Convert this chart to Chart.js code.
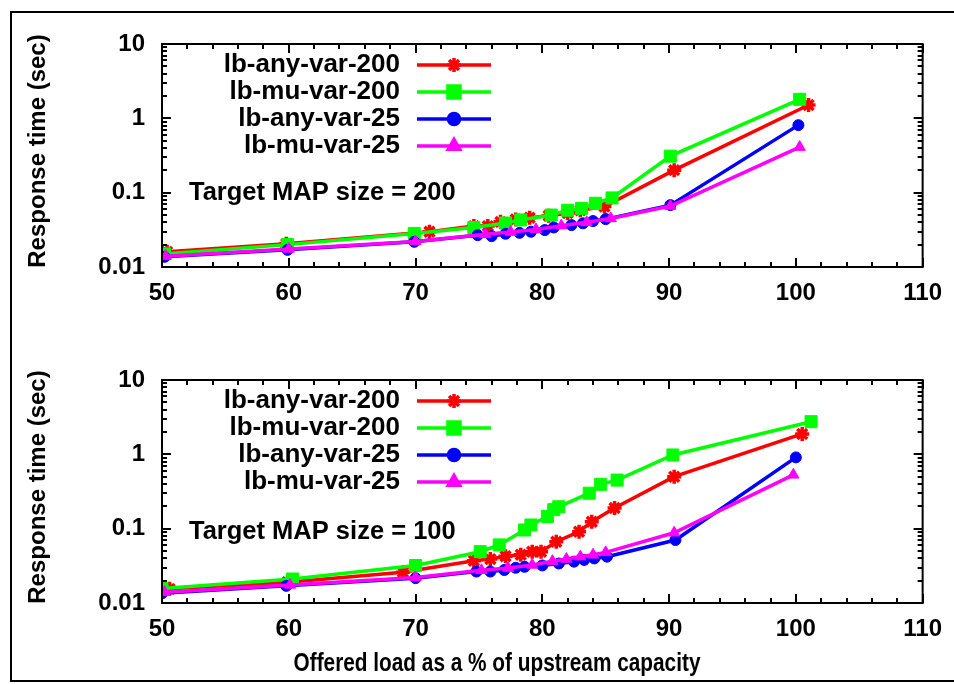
<!DOCTYPE html>
<html lang="en">
<head>
  <meta charset="UTF-8">
  <title>Response time vs offered load</title>
  <script src="https://cdn.jsdelivr.net/npm/chart.js@4"></script>
  <style>
    body { margin: 0; background: #fff; }
    #wrap { position: relative; width: 954px; height: 684px; overflow: hidden; }
    #frame {
      position: absolute; left: 10px; top: 11px; width: 1000px; height: 671px;
      box-sizing: border-box; border: 2px solid #000;
    }
    canvas { position: absolute; left: 0; }
  </style>
</head>
<body>
<div id="wrap">
  <div id="frame"></div>
  <canvas id="topChart" width="954" height="340" style="top:0"></canvas>
  <canvas id="bottomChart" width="954" height="344" style="top:340px"></canvas>
</div>

<script>
  // series names + tick labels
  const seriesNames = ['lb-any-var-200', 'lb-mu-var-200', 'lb-any-var-25', 'lb-mu-var-25'];
  const xTicks = [50, 60, 70, 80, 90, 100, 110];
  const yTicks = [0.01, 0.1, 1, 10];

  // Target MAP size = 200 (top panel)
  const top200AnyLoad = [50.4, 59.8, 71.1, 74.6, 75.7, 76.7, 77.9, 79.0, 80.5, 82.0, 83.0, 84.9, 90.4, 101.0];
  const top200AnyTime = [0.016, 0.0205, 0.0298, 0.0355, 0.0355, 0.0405, 0.0436, 0.046, 0.049, 0.053, 0.058, 0.065, 0.201, 1.51];
  const top200MuLoad = [50.2, 59.9, 69.9, 74.6, 77.1, 78.3, 80.7, 82.0, 83.1, 84.2, 85.5, 90.1, 100.3];
  const top200MuTime = [0.015, 0.020, 0.0283, 0.034, 0.039, 0.043, 0.050, 0.058, 0.0615, 0.072, 0.085, 0.31, 1.80];
  const top25AnyLoad = [50.2, 59.9, 69.9, 74.9, 76.0, 77.1, 78.2, 79.1, 80.2, 80.9, 82.3, 83.2, 84.0, 85.0, 90.1, 100.2];
  const top25AnyTime = [0.0137, 0.017, 0.0218, 0.0268, 0.026, 0.028, 0.0288, 0.0298, 0.0314, 0.034, 0.0366, 0.0387, 0.0415, 0.0441, 0.068, 0.81];
  const top25MuLoad = [50.3, 60.0, 70.0, 75.5, 77.5, 79.5, 81.5, 83.5, 85.4, 90.1, 100.3];
  const top25MuTime = [0.014, 0.0175, 0.022, 0.0275, 0.0295, 0.032, 0.036, 0.040, 0.045, 0.066, 0.41];

  // Target MAP size = 100 (bottom panel)
  const bot200AnyLoad = [50.6, 59.9, 69.0, 74.6, 75.9, 77.1, 78.3, 79.2, 79.9, 81.1, 82.9, 83.9, 85.7, 90.4, 100.5];
  const bot200AnyTime = [0.0155, 0.019, 0.026, 0.037, 0.039, 0.0425, 0.0445, 0.049, 0.049, 0.0667, 0.091, 0.124, 0.19, 0.50, 1.88];
  const bot200MuLoad = [50.0, 60.3, 70.0, 75.1, 76.6, 78.6, 79.1, 80.4, 80.9, 81.3, 83.7, 84.6, 85.9, 90.3, 101.2];
  const bot200MuTime = [0.0157, 0.021, 0.0319, 0.049, 0.0605, 0.096, 0.112, 0.146, 0.18, 0.197, 0.30, 0.395, 0.45, 0.98, 2.75];
  const bot25AnyLoad = [50.0, 59.8, 70.0, 74.8, 75.9, 77.0, 77.9, 78.6, 80.0, 81.3, 82.5, 83.3, 84.1, 85.1, 90.5, 100.0];
  const bot25AnyTime = [0.0135, 0.017, 0.0216, 0.0265, 0.0265, 0.0278, 0.0298, 0.0307, 0.032, 0.034, 0.036, 0.038, 0.0398, 0.042, 0.0703, 0.91];
  const bot25MuLoad = [50.2, 60.1, 70.0, 75.2, 77.3, 79.2, 80.8, 81.9, 83.0, 84.0, 85.0, 90.4, 99.8];
  const bot25MuTime = [0.014, 0.0175, 0.022, 0.0275, 0.0295, 0.0325, 0.0365, 0.039, 0.042, 0.0445, 0.048, 0.088, 0.53];

  const FONT = "'Liberation Sans', Arial, sans-serif";
  Chart.defaults.font.family = FONT;
  Chart.defaults.font.size = 24;
  Chart.defaults.font.weight = 'bold';
  Chart.defaults.color = '#000';

  const styles = [
    { color: '#ff0000', pointStyle: 'star', radius: 7 },
    { color: '#00ff00', pointStyle: 'rect', radius: 8.5 },
    { color: '#0000ff', pointStyle: 'circle', radius: 5.5 },
    { color: '#ff00ff', pointStyle: 'triangle', radius: 6.5 }
  ];

  function pairs(xs, ys) {
    return xs.map((x, i) => ({ x: x, y: ys[i] }));
  }

  function makeDatasets(lists) {
    return lists.map((pts, i) => ({
      label: seriesNames[i],
      data: pts,
      borderColor: styles[i].color,
      backgroundColor: styles[i].color,
      pointBackgroundColor: styles[i].color,
      pointBorderColor: styles[i].color,
      pointStyle: styles[i].pointStyle,
      pointRadius: styles[i].radius,
      pointBorderWidth: i === 0 ? 3.5 : 1,
      borderWidth: 3.5,
      tension: 0,
      order: 3 - i
    }));
  }

  // gnuplot-ish frame, inward ticks, legend and labels
  const gnuplotFrame = {
    id: 'gnuplotFrame',
    afterDatasetsDraw(chart, args, opts) {
      const ctx = chart.ctx;
      const a = chart.chartArea;
      const x = chart.scales.x;
      const y = chart.scales.y;
      ctx.save();
      ctx.strokeStyle = '#000';
      ctx.lineWidth = 2;
      ctx.beginPath();
      for (let v = 50; v <= 110; v += 2) {
        const px = Math.round(x.getPixelForValue(v));
        const len = v % 10 === 0 ? 9 : 5;
        ctx.moveTo(px, a.bottom); ctx.lineTo(px, a.bottom - len);
        ctx.moveTo(px, a.top); ctx.lineTo(px, a.top + len);
      }
      for (const d of [0.01, 0.1, 1]) {
        for (let m = 1; m <= 10; m++) {
          const py = Math.round(y.getPixelForValue(d * m));
          const len = (m === 1 || m === 10) ? 9 : 5;
          ctx.moveTo(a.left, py); ctx.lineTo(a.left + len, py);
          ctx.moveTo(a.right, py); ctx.lineTo(a.right - len, py);
        }
      }
      ctx.stroke();
      ctx.strokeRect(a.left, a.top, a.width, a.height);

      // legend
      ctx.font = 'bold 26px ' + FONT;
      ctx.textBaseline = 'middle';
      chart.data.datasets.forEach((ds, i) => {
        const ly = opts.legendY[i];
        ctx.fillStyle = '#000';
        ctx.textAlign = 'right';
        ctx.fillText(ds.label, 400, ly);
        ctx.strokeStyle = ds.borderColor;
        ctx.lineWidth = 3.5;
        ctx.beginPath();
        ctx.moveTo(417, ly); ctx.lineTo(491, ly);
        ctx.stroke();
        ctx.fillStyle = ds.borderColor;
        Chart.helpers.drawPoint(ctx, {
          pointStyle: ds.pointStyle, radius: ds.pointRadius,
          borderWidth: ds.pointBorderWidth, rotation: 0
        }, 454, ly);
      });

      ctx.fillStyle = '#000';
      ctx.textAlign = 'left';
      ctx.font = 'bold 25.5px ' + FONT;
      ctx.fillText(opts.note, 189, opts.noteY);

      ctx.font = 'bold 24px ' + FONT;
      ctx.save();
      ctx.translate(38, opts.yTitleY);
      ctx.rotate(-Math.PI / 2);
      ctx.textAlign = 'center';
      ctx.fillText('Response time (sec)', 0, 0);
      ctx.restore();

      if (opts.xTitle) {
        ctx.save();
        ctx.font = 'bold 26px ' + FONT;
        ctx.translate(497, opts.xTitleY);
        ctx.scale(0.8, 1);
        ctx.textAlign = 'center';
        ctx.fillText(opts.xTitle, 0, 0);
        ctx.restore();
      }
      ctx.restore();
    }
  };

  function makeChart(id, lists, axisHeight, frameOpts) {
    return new Chart(document.getElementById(id), {
      type: 'line',
      data: { datasets: makeDatasets(lists) },
      plugins: [gnuplotFrame],
      options: {
        responsive: false,
        animation: false,
        layout: { padding: { top: frameOpts.top, right: 30, left: 0, bottom: 0 } },
        plugins: {
          legend: { display: false },
          tooltip: { enabled: false },
          gnuplotFrame: frameOpts
        },
        scales: {
          x: {
            type: 'linear',
            min: 50, max: 110,
            afterBuildTicks: s => { s.ticks = xTicks.map(v => ({ value: v })); },
            afterFit: s => { s.height = axisHeight; },
            grid: { display: false, drawTicks: false },
            border: { display: false },
            ticks: { padding: 12, maxRotation: 0 }
          },
          y: {
            type: 'logarithmic',
            min: 0.01, max: 10,
            afterBuildTicks: s => { s.ticks = yTicks.map(v => ({ value: v })); },
            afterFit: s => { s.width = 162; },
            grid: { display: false, drawTicks: false },
            border: { display: false },
            ticks: { padding: 17, callback: v => String(v) }
          }
        }
      }
    });
  }

  makeChart('topChart', [
    pairs(top200AnyLoad, top200AnyTime),
    pairs(top200MuLoad, top200MuTime),
    pairs(top25AnyLoad, top25AnyTime),
    pairs(top25MuLoad, top25MuTime)
  ], 73, {
    top: 44, legendY: [65, 92, 119, 146],
    note: 'Target MAP size = 200', noteY: 193, yTitleY: 151
  });

  makeChart('bottomChart', [
    pairs(bot200AnyLoad, bot200AnyTime),
    pairs(bot200MuLoad, bot200MuTime),
    pairs(bot25AnyLoad, bot25AnyTime),
    pairs(bot25MuLoad, bot25MuTime)
  ], 81, {
    top: 40, legendY: [61, 88, 115, 142],
    note: 'Target MAP size = 100', noteY: 192, yTitleY: 147,
    xTitle: 'Offered load as a % of upstream capacity', xTitleY: 324
  });
</script>
</body>
</html>
